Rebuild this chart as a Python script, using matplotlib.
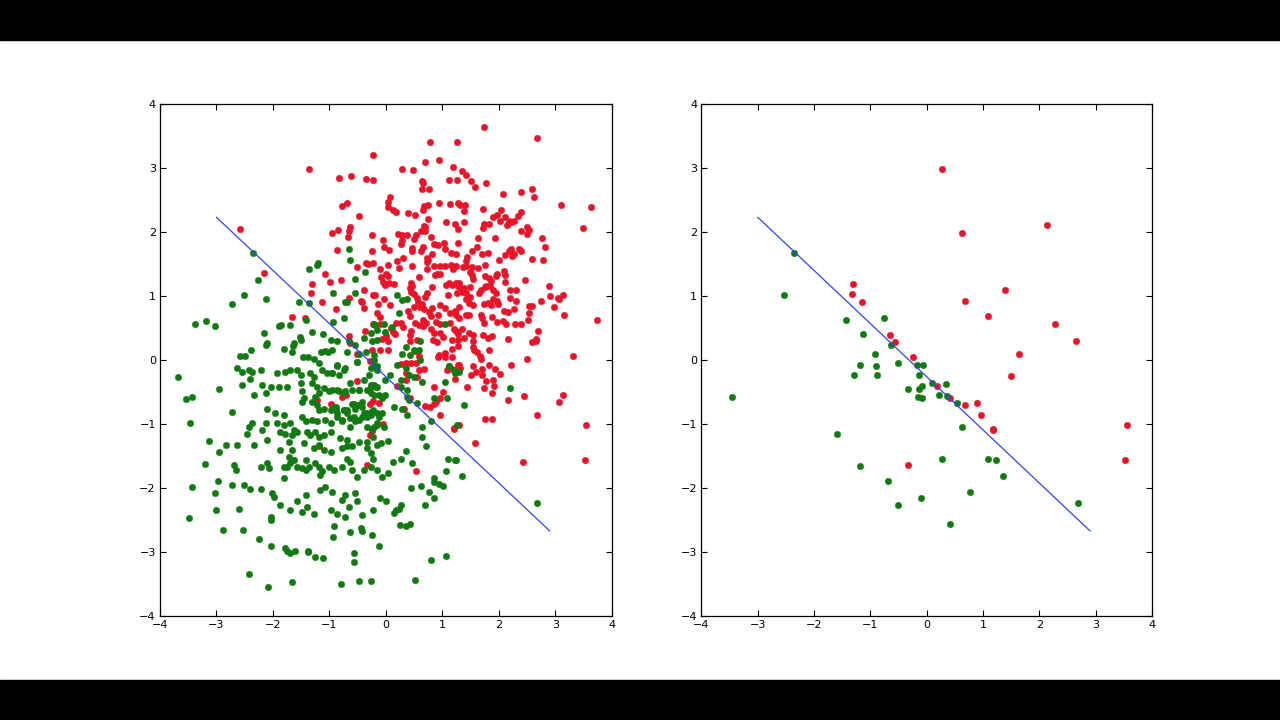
import numpy as np
import matplotlib
matplotlib.use("Agg")
import matplotlib.pyplot as plt
from matplotlib.patches import Rectangle

# left panel: full data set, class 1 (red)
left_red = np.array([
    (-1.37, 2.99), (-2.58, 2.04), (-2.15, 1.36), (-1.66, 0.68), (-1.43, 0.66),
    (0.78, 3.41), (1.26, 3.40), (-0.23, 3.20), (-0.83, 2.85), (-0.62, 2.88),
    (-0.35, 2.83), (-0.22, 2.82), (0.28, 2.98), (0.48, 2.97), (0.70, 3.09),
    (0.94, 3.13), (1.18, 3.01), (0.63, 2.80), (0.66, 2.77), (0.64, 2.67),
    (0.76, 2.67), (1.12, 2.82), (1.26, 2.82), (0.08, 2.54), (0.04, 2.47),
    (0.03, 2.39), (0.12, 2.35), (0.18, 2.32), (0.39, 2.30), (0.52, 2.26),
    (0.66, 2.34), (0.68, 2.41), (0.75, 2.42), (0.94, 2.46), (1.13, 2.44),
    (1.27, 2.45), (-0.77, 2.41), (-0.69, 2.46), (-0.48, 2.25), (0.75, 2.21),
    (1.07, 2.16), (1.22, 2.13), (-0.63, 2.08), (-0.66, 2.01), (-0.68, 1.92),
    (-0.96, 1.99), (-0.85, 2.03), (-0.86, 1.72), (-0.24, 1.96), (-0.06, 1.87),
    (-0.04, 1.77), (0.06, 1.72), (-0.24, 1.70), (0.21, 1.97), (0.29, 1.95),
    (0.37, 1.96), (0.28, 1.87), (0.26, 1.81), (0.50, 1.89), (0.53, 1.96),
    (0.62, 2.01), (0.67, 2.09), (0.70, 2.08), (0.69, 2.01), (0.79, 1.93),
    (0.85, 1.82), (0.92, 1.79), (1.04, 1.74), (1.03, 1.83), (0.46, 1.75),
    (0.47, 1.71), (0.66, 1.76), (0.62, 1.70), (1.15, 1.68), (1.24, 1.65),
    (0.82, 1.65), (0.74, 1.57), (0.30, 1.59), (0.19, 1.54), (0.03, 1.48),
    (-0.10, 1.43), (0.23, 1.44), (-0.35, 1.52), (-0.32, 1.50), (-0.22, 1.52),
    (-0.52, 1.46), (0.46, 1.47), (0.58, 1.30), (0.72, 1.43), (0.72, 1.53),
    (0.72, 1.59), (0.85, 1.47), (0.90, 1.35), (0.87, 1.33), (0.96, 1.47),
    (1.05, 1.47), (1.16, 1.48), (1.19, 1.43), (0.95, 1.35), (-1.07, 1.34),
    (-0.79, 1.25), (-0.99, 1.22), (-1.31, 1.19), (0.00, 1.35), (0.04, 1.31),
    (-0.08, 1.29), (-0.06, 1.22), (-0.02, 1.18), (0.05, 1.21), (0.14, 1.19),
    (0.44, 1.20), (0.46, 1.15), (0.44, 1.06), (0.42, 1.12), (0.81, 1.14),
    (0.73, 1.05), (0.70, 0.99), (1.06, 1.17), (1.11, 1.21), (1.17, 1.17),
    (1.24, 1.21), (1.28, 1.15), (1.10, 1.01), (-1.32, 1.04), (-1.14, 0.91),
    (-0.65, 0.97), (-0.39, 1.10), (-0.22, 1.01), (-0.19, 1.02), (-0.03, 0.95),
    (0.07, 0.86), (-0.14, 0.87), (-0.39, 0.81), (-0.45, 0.93), (-0.42, 0.90),
    (-0.89, 0.79), (0.49, 1.03), (0.55, 0.97), (0.56, 0.91), (0.64, 0.87),
    (0.61, 0.83), (0.49, 0.83), (0.39, 0.76), (0.42, 0.69), (0.67, 0.79),
    (0.76, 0.75), (0.82, 0.81), (0.79, 0.69), (0.96, 0.86), (1.05, 0.81),
    (1.14, 0.74), (1.23, 0.77), (1.30, 0.83), (0.93, 0.71), (0.89, 0.60),
    (0.95, 0.56), (0.65, 0.62), (0.71, 0.58), (0.65, 0.53), (0.59, 0.55),
    (0.52, 0.58), (0.45, 0.45), (0.42, 0.39), (0.27, 0.58), (0.30, 0.51),
    (0.17, 0.58), (0.09, 0.50), (0.12, 0.44), (0.16, 0.41), (-0.16, 0.73),
    (-0.11, 0.68), (-0.22, 0.57), (-0.10, 0.57), (-0.07, 0.33), (0.01, 0.37),
    (0.04, 0.29), (-0.37, 0.45), (-0.24, 0.15), (-0.11, 0.15), (0.04, 0.15),
    (0.42, 0.30), (0.55, 0.32), (0.79, 0.48), (0.85, 0.42), (0.84, 0.32),
    (0.91, 0.28), (0.96, 0.43), (1.01, 0.36), (1.13, 0.58), (1.21, 0.48),
    (1.28, 0.41), (1.17, 0.31), (1.28, 0.22), (-0.65, 0.38), (-0.63, 0.26),
    (-0.52, 0.10), (0.94, 0.08), (1.04, 0.11), (1.17, 0.17), (0.52, 0.14),
    (0.59, 0.06),
    (1.74, 3.64), (2.67, 3.47), (1.34, 2.96), (1.41, 2.89), (1.51, 2.79),
    (1.57, 2.71), (1.77, 2.77), (2.07, 2.60), (2.39, 2.63), (2.59, 2.68),
    (2.62, 2.55), (3.10, 2.42), (3.63, 2.39), (3.49, 2.06), (1.32, 2.43),
    (1.40, 2.43), (1.39, 2.33), (1.72, 2.36), (2.04, 2.35), (1.97, 2.26),
    (1.89, 2.24), (2.02, 2.18), (2.10, 2.23), (2.18, 2.18), (2.22, 2.16),
    (2.27, 2.17), (2.33, 2.25), (2.40, 2.31), (1.71, 2.07), (1.74, 2.13),
    (1.82, 2.13), (2.14, 2.11), (2.39, 2.02), (2.50, 2.08), (2.54, 2.03),
    (2.49, 1.97), (1.39, 2.16), (1.27, 2.04), (1.28, 1.83), (1.93, 1.90),
    (1.63, 1.91), (2.77, 1.90), (2.82, 1.77), (1.61, 1.76), (1.52, 1.71),
    (1.70, 1.66), (1.80, 1.68), (1.44, 1.61), (1.42, 1.55), (2.00, 1.57),
    (2.11, 1.64), (2.18, 1.71), (2.21, 1.74), (2.27, 1.66), (2.35, 1.73),
    (2.39, 1.71), (2.24, 1.62), (2.58, 1.58), (2.78, 1.57), (1.24, 1.47),
    (1.37, 1.46), (1.42, 1.47), (1.53, 1.46), (1.63, 1.44), (1.76, 1.48),
    (1.49, 1.38), (1.52, 1.33), (1.54, 1.27), (1.75, 1.32), (1.83, 1.28),
    (1.86, 1.23), (1.84, 1.16), (1.77, 1.16), (1.97, 1.35), (1.95, 1.32),
    (2.09, 1.39), (2.11, 1.33), (2.11, 1.22), (2.46, 1.25), (1.29, 1.21),
    (1.31, 1.14), (1.38, 1.12), (1.48, 1.14), (1.34, 1.06), (1.26, 1.05),
    (1.42, 1.04), (1.41, 0.95), (1.64, 1.04), (1.69, 1.09), (1.76, 1.14),
    (1.89, 1.09), (1.95, 1.04), (1.89, 0.95), (1.49, 0.98), (1.47, 0.89),
    (1.54, 0.86), (1.73, 0.87), (1.80, 0.89), (1.86, 0.86), (1.96, 0.92),
    (2.20, 1.10), (2.30, 1.09), (2.20, 0.97), (2.30, 0.93), (1.99, 0.87),
    (2.26, 0.79), (2.09, 0.76), (2.17, 0.75), (2.53, 0.84), (2.58, 0.84),
    (2.89, 1.16), (2.90, 1.00), (2.75, 0.93), (2.98, 0.83), (3.04, 0.97),
    (3.13, 1.02), (3.07, 0.95), (3.16, 0.70), (3.73, 0.62), (2.53, 0.74),
    (2.52, 0.62), (2.70, 0.46), (2.65, 0.33), (2.59, 0.28), (2.66, 0.30),
    (1.24, 0.70), (1.30, 0.66), (1.41, 0.71), (1.47, 0.71), (1.68, 0.71),
    (1.70, 0.66), (1.87, 0.67), (1.97, 0.60), (2.07, 0.61), (2.13, 0.57),
    (2.28, 0.57), (2.40, 0.56), (1.24, 0.45), (1.35, 0.48), (1.47, 0.43),
    (1.54, 0.39), (1.74, 0.58), (1.72, 0.39), (1.80, 0.34), (1.88, 0.38),
    (1.28, 0.32), (1.39, 0.34), (1.55, 0.29), (1.55, 0.21), (1.56, 0.16),
    (1.62, 0.12), (1.67, 0.06), (1.82, 0.15), (2.16, 0.33), (2.49, 0.02),
    (3.32, 0.06),
    (-0.51, -0.32), (-0.71, -0.54), (-0.78, -0.58), (-0.98, -0.69),
    (-1.22, -0.63), (-0.29, -0.02), (-0.25, -0.40), (-0.17, -0.42),
    (-0.28, -0.68), (-0.23, -0.64), (-0.12, -0.67), (-0.06, -1.00),
    (-0.25, -1.11), (-0.29, -1.17), (-0.33, -1.64), (0.54, -1.74),
    (0.32, -0.76), (0.19, -0.41), (0.42, -0.59), (0.27, -0.06), (0.35, -0.04),
    (0.45, -0.05), (0.54, -0.04), (0.59, -0.16), (0.68, -0.14), (0.36, -0.21),
    (0.36, -0.31), (0.55, -0.27), (0.85, -0.42), (1.01, -0.50), (0.95, -0.60),
    (0.88, -0.65), (0.86, -0.68), (0.78, -0.73), (0.69, -0.72), (0.96, -0.86),
    (1.20, -1.07), (1.21, -1.06), (1.29, -1.02), (0.92, 0.05), (1.04, 0.04),
    (1.17, 0.05), (1.08, -0.16), (1.17, -0.14), (1.28, -0.08), (1.12, -0.09),
    (1.30, -0.07), (1.32, -0.13), (1.23, -0.29), (1.55, -0.10), (1.50, -0.24),
    (1.60, -0.19), (1.70, -0.14), (1.70, -0.24), (1.77, -0.32), (1.83, -0.07),
    (1.94, -0.14), (2.02, -0.22), (1.89, -0.31), (1.91, -0.41), (1.73, -0.44),
    (1.88, -0.51), (1.43, -0.42), (2.21, -0.07), (1.69, 0.02), (2.17, -0.63),
    (2.45, -0.56), (3.07, -0.66), (3.14, -0.55), (2.68, -0.86), (1.75, -0.92),
    (1.88, -0.92), (3.54, -1.01), (1.58, -1.29), (2.43, -1.60), (3.52, -1.56),
    (-1.19, -1.35),
])

# left panel: full data set, class 0 (green)
left_green = np.array([
    # upper left
    (-2.35, 1.67), (-2.27, 1.25), (-2.51, 1.01), (-2.13, 0.95), (-2.73, 0.87),
    (-1.54, 0.91), (-1.37, 1.43), (-1.37, 0.89), (-1.42, 0.62), (-3.38, 0.56),
    (-3.18, 0.61), (-3.02, 0.53), (-1.70, 0.55), (-1.90, 0.53), (-1.85, 0.55),
    (-2.15, 0.42), (-2.13, 0.24), (-2.10, 0.27), (-1.63, 0.26), (-1.64, 0.22),
    (-1.52, 0.36), (-1.50, 0.32), (-1.81, 0.18), (-2.38, 0.16), (-1.66, 0.12),
    (-2.59, 0.07), (-2.49, 0.06), (-1.47, 0.04), (-1.38, 0.05),
    (-1.22, 1.49), (-1.20, 1.51), (-0.65, 1.73), (-0.63, 1.56), (-0.37, 1.37),
    (-0.54, 1.26), (-1.30, 0.44), (-1.12, 0.40), (-1.15, 0.12), (-1.07, 0.14),
    (-1.02, 0.12), (-1.28, 0.01),
    # middle band near the line
    (-0.93, 1.04), (-0.54, 1.04), (-0.72, 0.91), (-0.69, 0.90), (-0.75, 0.65),
    (-0.93, 0.59), (-0.21, 0.57), (-0.19, 0.55), (-0.04, 0.57), (-0.16, 0.47),
    (-0.27, 0.42), (-0.01, 0.44), (0.11, 0.52), (0.23, 0.73), (0.20, 1.02),
    (0.37, 0.96), (0.29, 0.94), (-0.39, 0.34), (-0.24, 0.29), (-0.16, 0.31),
    (-0.98, 0.31), (-0.86, 0.29), (-0.95, 0.16), (-0.66, 0.29), (-0.54, 0.23),
    (-0.69, 0.13), (-0.48, 0.10), (-0.51, -0.03), (-0.36, 0.13), (-0.21, 0.08),
    (-0.21, 0.00), (0.36, 0.21), (0.49, 0.16), (0.29, 0.10), (0.43, 0.08),
    (0.58, 0.16), (0.61, 0.00), (0.61, 0.29), (0.20, -0.08), (0.35, -0.13),
    (0.40, -0.23), (0.49, -0.26), (0.64, -0.34), (0.26, -0.31), (0.08, -0.23),
    (-0.01, -0.31), (-0.16, -0.10), (-0.30, -0.23), (-0.27, -0.13),
    (-0.86, -0.08), (-0.95, -0.21), (-0.75, -0.16), (-0.39, -0.31),
    (-0.48, -0.47), (-0.60, -0.47), (-0.75, -0.52), (-0.86, -0.47),
    (-0.01, -0.55), (-0.13, -0.55), (-0.07, -0.60), (-0.21, -0.39),
    (-0.27, -0.42), (0.38, -0.47), (0.38, -0.57), (0.40, -0.63), (0.26, -0.42),
    (0.14, -0.73), (0.38, -0.86), (0.29, -0.76), (0.55, -0.67), (0.85, -0.60),
    (1.08, -0.60), (0.64, -1.04), (0.79, -0.96), (0.64, -1.20), (1.26, -1.02),
    (1.38, -0.70), (1.11, -0.09), (1.20, -0.16), (1.23, -0.21), (1.29, -0.18),
    (1.05, -0.34), (1.05, 0.57), (-0.27, -0.81), (-0.13, -0.89), (-0.16, -1.02),
    (-0.21, -1.04), (-0.36, -0.83), (-0.42, -0.89), (-0.33, -0.89),
    (-0.04, -1.04), (-0.07, -0.83), (-0.75, -0.78), (-0.69, -0.78),
    (-0.60, -0.68), (-0.54, -0.76), (-0.48, -0.70), (-0.42, -0.73),
    (-0.57, -0.89), (-0.54, -0.96), (-0.63, -1.04), (-0.92, -0.73),
    (-0.89, -0.78), (-0.86, -0.89), (-0.77, -0.94), (-0.27, -0.52),
    (-0.21, -0.55),
    # green core
    (-2.63, -0.13), (-2.54, -0.18), (-2.43, -0.16), (-2.37, -0.18),
    (-2.22, -0.16), (-1.93, -0.21), (-1.78, -0.18), (-1.69, -0.16),
    (-1.57, -0.16), (-1.51, -0.23), (-1.34, -0.21), (-1.28, -0.26),
    (-1.19, -0.05), (-1.13, -0.16), (-1.04, -0.21), (-0.95, -0.21),
    (-0.86, -0.10), (-0.83, -0.23), (-0.72, -0.13), (-0.51, -0.03),
    (-0.21, -0.10), (-0.16, -0.16),
    (-2.54, -0.39), (-2.40, -0.29), (-2.19, -0.39), (-2.04, -0.42),
    (-2.34, -0.55), (-2.13, -0.52), (-1.90, -0.42), (-1.75, -0.42),
    (-1.51, -0.36), (-1.48, -0.49), (-1.31, -0.36), (-1.22, -0.42),
    (-1.19, -0.52), (-1.01, -0.49), (-0.95, -0.47), (-0.83, -0.49),
    (-0.72, -0.49), (-0.63, -0.36), (-0.48, -0.47), (-0.33, -0.47),
    (-0.27, -0.39), (-0.16, -0.42), (-1.10, -0.44), (-1.25, -0.57),
    (-1.45, -0.60),
    (-2.10, -0.76), (-1.96, -0.83), (-1.81, -0.86), (-1.48, -0.65),
    (-1.31, -0.65), (-1.22, -0.70), (-1.19, -0.78), (-1.10, -0.76),
    (-0.98, -0.78), (-0.89, -0.73), (-0.86, -0.83), (-0.75, -0.78),
    (-0.69, -0.83), (-0.57, -0.68), (-0.51, -0.70), (-0.42, -0.65),
    (-0.39, -0.83), (-0.27, -0.86), (-0.22, -0.78), (-0.16, -0.83),
    (-2.72, -0.81), (-2.13, -0.99), (-1.93, -0.99), (-1.81, -1.02),
    (-1.69, -0.99), (-1.48, -0.89), (-1.42, -0.96), (-1.31, -0.94),
    (-1.22, -0.96), (-1.07, -0.94), (-0.98, -0.99), (-0.78, -0.96),
    (-0.63, -0.91), (-0.48, -0.94), (-0.33, -1.04), (-0.24, -1.07),
    (-0.16, -0.99),
    (-2.37, -0.99), (-2.43, -1.04), (-2.46, -1.15), (-2.19, -1.09),
    (-2.10, -1.25), (-1.87, -1.12), (-1.78, -1.15), (-1.66, -1.17),
    (-1.63, -1.09), (-1.57, -1.12), (-1.40, -1.12), (-1.34, -1.17),
    (-1.25, -1.12), (-1.19, -1.20), (-1.10, -1.17), (-0.98, -1.12),
    (-0.81, -1.22), (-0.69, -1.25), (-0.48, -1.28), (-0.33, -1.28),
    (-0.22, -1.20), (-0.16, -1.33), (-1.87, -1.41), (-1.66, -1.41),
    (-1.72, -1.28), (-1.45, -1.30), (-1.28, -1.38), (-1.19, -1.33),
    (-1.10, -1.41), (-0.98, -1.43), (-0.78, -1.38), (-0.69, -1.35),
    (-0.60, -1.35), (-0.33, -1.38), (-0.27, -1.46), (-2.63, -1.33),
    (-2.34, -1.33),
    (-2.69, -1.64), (-2.66, -1.72), (-2.22, -1.67), (-2.10, -1.61),
    (-2.07, -1.69), (-1.81, -1.67), (-1.75, -1.67), (-1.69, -1.61),
    (-1.63, -1.56), (-1.72, -1.51), (-1.57, -1.67), (-1.48, -1.69),
    (-1.42, -1.72), (-1.37, -1.67), (-1.25, -1.61), (-1.19, -1.67),
    (-1.13, -1.74), (-1.16, -1.80), (-1.01, -1.67), (-0.92, -1.72),
    (-0.78, -1.67), (-0.69, -1.54), (-0.63, -1.59), (-0.60, -1.72),
    (-0.51, -1.82), (-0.39, -1.72), (-0.27, -1.67), (-0.22, -1.54),
    (-0.16, -1.72), (-1.81, -1.85), (-1.42, -1.56),
    (-2.72, -1.95), (-2.52, -1.95), (-2.40, -2.01), (-2.22, -2.01),
    (-2.01, -2.08), (-1.99, -2.14), (-1.87, -2.27), (-1.69, -2.34),
    (-1.57, -2.21), (-1.42, -2.11), (-1.40, -2.29), (-1.16, -2.03),
    (-1.07, -1.98), (-0.95, -2.06), (-0.78, -2.19), (-0.72, -2.11),
    (-0.66, -2.29), (-0.54, -2.08), (-0.51, -2.21), (-0.42, -2.42),
    (-0.22, -2.34), (-1.48, -2.37), (-1.28, -2.40), (-0.98, -2.34),
    (-0.86, -2.40), (-0.72, -2.45), (-2.60, -2.32), (-2.04, -2.45),
    (-2.04, -2.50),
    # outer left and bottom
    (-3.68, -0.27), (-3.54, -0.61), (-3.44, -0.57), (-3.47, -0.99),
    (-3.44, -1.99), (-3.49, -2.47), (-2.95, -0.45), (-3.14, -1.27),
    (-3.21, -1.63), (-2.96, -1.44), (-2.83, -1.33), (-2.97, -1.89),
    (-3.02, -2.07), (-3.00, -2.35), (-2.88, -2.66), (-2.53, -2.66),
    (-2.42, -3.35), (-2.09, -3.55), (-1.66, -3.47), (-2.24, -2.80),
    (-2.03, -2.90), (-1.78, -2.93), (-1.76, -2.99), (-1.69, -3.02),
    (-1.61, -2.99), (-1.38, -3.00), (-0.92, -2.60), (-0.93, -2.76),
    (-0.64, -2.68), (-0.44, -2.63), (-0.42, -2.67), (-0.25, -2.73),
    (-0.13, -2.90), (-1.38, -2.99), (-1.25, -3.07), (-1.12, -3.10),
    (-0.56, -3.02), (-0.56, -3.16), (-0.79, -3.50), (-0.47, -3.45),
    (-0.26, -3.46), (0.51, -3.44), (0.80, -3.12), (1.06, -3.06),
    # lower right of the green cloud
    (-0.07, -1.82), (0.03, -1.77), (-0.09, -1.29), (0.04, -1.27),
    (0.12, -1.59), (0.27, -1.54), (0.35, -1.42), (0.47, -1.61),
    (0.71, -1.34), (1.10, -1.55), (1.23, -1.56), (1.07, -1.74),
    (0.85, -1.85), (0.94, -1.94), (1.01, -1.97), (0.85, -2.16),
    (0.69, -2.26), (0.86, -1.90), (0.77, -2.06), (0.62, -1.97),
    (0.45, -2.00), (-0.10, -2.15), (0.01, -2.21), (0.14, -2.39),
    (0.18, -2.35), (0.23, -2.33), (0.26, -2.26), (0.25, -2.58),
    (0.36, -2.60), (0.43, -2.56), (2.20, -0.43), (1.24, -1.56),
    (1.35, -1.81), (2.68, -2.23),
])

# right panel: subset of points
right_red = np.array([
    (-1.31, 1.19), (-1.33, 1.03), (-1.15, 0.91), (-0.66, 0.39), (-0.57, 0.28),
    (-0.24, 0.05), (0.27, 2.98), (0.62, 1.99), (2.13, 2.11), (1.39, 1.10),
    (0.68, 0.93), (1.08, 0.69), (2.27, 0.57), (2.65, 0.29), (1.63, 0.10),
    (-0.33, -1.64), (0.18, -0.40), (0.41, -0.59), (0.68, -0.71), (0.89, -0.67),
    (0.96, -0.86), (1.18, -1.07), (1.18, -1.09), (1.50, -0.25), (3.55, -1.01),
    (3.52, -1.56),
])
right_green = np.array([
    (-2.36, 1.67), (-2.53, 1.01), (-1.43, 0.62), (-1.14, 0.40), (-0.76, 0.65),
    (-0.64, 0.23), (-0.91, 0.10), (-1.19, -0.07), (-0.90, -0.09), (-1.29, -0.24),
    (-0.88, -0.23), (-0.51, -0.04), (-0.18, -0.08), (-0.06, -0.08), (-0.14, -0.24),
    (-0.08, -0.40), (-0.33, -0.46), (-0.14, -0.46), (-0.15, -0.57), (-0.08, -0.60),
    (-3.46, -0.57), (-1.59, -1.16), (-1.19, -1.65), (-0.68, -1.89), (-0.51, -2.27),
    (-0.11, -2.15), (0.09, -0.36), (0.22, -0.54), (0.34, -0.38), (0.36, -0.56),
    (0.54, -0.67), (0.63, -1.04), (0.27, -1.54), (1.09, -1.54), (1.23, -1.56),
    (1.35, -1.81), (0.76, -2.06), (0.42, -2.56), (2.68, -2.23),
])

# separating line
line_x = [-3.0, 2.9]
line_y = [2.23, -2.67]

red = "#e8142a"
green = "#137a13"

fig = plt.figure(figsize=(12.8, 7.2), dpi=100, facecolor="white")
fig.add_artist(Rectangle((0, 0), 1, 40 / 720, transform=fig.transFigure, color="black"))
fig.add_artist(Rectangle((0, 680 / 720), 1, 40 / 720, transform=fig.transFigure, color="black"))

ax1 = fig.add_axes([0.125, 0.1444, 0.353, 0.7111])
ax2 = fig.add_axes([0.548, 0.1444, 0.352, 0.7111])

panels = [(ax1, left_red, left_green), (ax2, right_red, right_green)]
for ax, r, g in panels:
    ax.scatter(r[:, 0], r[:, 1], s=22, c=red, edgecolors=red, linewidths=0.3, zorder=2)
    ax.scatter(g[:, 0], g[:, 1], s=22, c=green, edgecolors=green, linewidths=0.3, zorder=2)
    ax.plot(line_x, line_y, color="#3344ee", lw=0.9, zorder=3)
    ax.set_xlim(-4, 4)
    ax.set_ylim(-4, 4)
    ax.set_xticks(range(-4, 5))
    ax.set_yticks(range(-4, 5))
    ax.tick_params(direction="in", length=4, width=0.8, top=True, right=True,
                   labelsize=8, pad=3)
    for sp in ax.spines.values():
        sp.set_linewidth(0.9)

fig.savefig("out.png", dpi=100, facecolor="white")
